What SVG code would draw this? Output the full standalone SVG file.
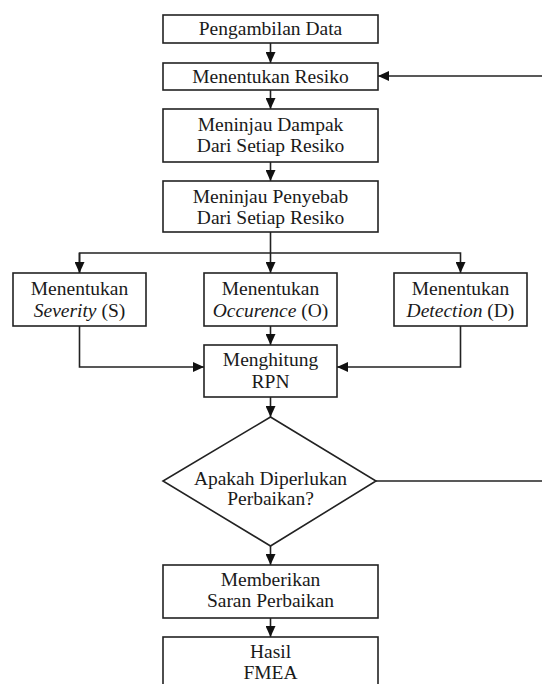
<svg xmlns="http://www.w3.org/2000/svg" width="542" height="684" viewBox="0 0 542 684">
<style>
.b{fill:#fff;stroke:#222;stroke-width:1.6}
.t{font-family:"Liberation Serif","Times New Roman",serif;font-size:19.5px;fill:#1a1a1a;text-anchor:middle}
.c{fill:none;stroke:#222;stroke-width:1.6}
</style>
<defs>
<marker id="a" markerUnits="userSpaceOnUse" markerWidth="11" markerHeight="10" refX="11" refY="5" orient="auto">
<path d="M0,0 L11,5 L0,10 z" fill="#111"/>
</marker>
</defs>
<rect width="542" height="684" fill="#fff"/>
<g id="connectors">
<path class="c" d="M270.5,43 V63" marker-end="url(#a)"/>
<path class="c" d="M270.5,90 V109" marker-end="url(#a)"/>
<path class="c" d="M270.5,162 V181" marker-end="url(#a)"/>
<path class="c" d="M270.5,232 V273" marker-end="url(#a)"/>
<path class="c" d="M79.5,273 V253 H460.5 V273" marker-end="url(#a)"/>
<path class="c" d="M79.5,253 V273" marker-end="url(#a)"/>
<path class="c" d="M270.5,326 V345" marker-end="url(#a)"/>
<path class="c" d="M79.5,326 V367 H204" marker-end="url(#a)"/>
<path class="c" d="M460.5,326 V367 H337" marker-end="url(#a)"/>
<path class="c" d="M270.5,397 V417" marker-end="url(#a)"/>
<path class="c" d="M270.5,546 V565" marker-end="url(#a)"/>
<path class="c" d="M270.5,618 V637" marker-end="url(#a)"/>
<path class="c" d="M376,481 H545"/>
<path class="c" d="M545,76 H378" marker-end="url(#a)"/>
</g>
<g id="n1"><rect class="b" x="163" y="15" width="215" height="28"/><text class="t" x="270.5" y="35">Pengambilan Data</text></g>
<g id="n2"><rect class="b" x="163" y="63" width="215" height="27"/><text class="t" x="270.5" y="83">Menentukan Resiko</text></g>
<g id="n3"><rect class="b" x="163" y="109" width="215" height="53"/><text class="t" x="270.5" y="131">Meninjau Dampak</text><text class="t" x="270.5" y="152">Dari Setiap Resiko</text></g>
<g id="n4"><rect class="b" x="163" y="181" width="215" height="51"/><text class="t" x="270.5" y="203">Meninjau Penyebab</text><text class="t" x="270.5" y="224">Dari Setiap Resiko</text></g>
<g id="n5"><rect class="b" x="13" y="273" width="133" height="53"/><text class="t" x="79.5" y="295">Menentukan</text><text class="t" x="79.5" y="317"><tspan font-style="italic">Severity</tspan> (S)</text></g>
<g id="n6"><rect class="b" x="204" y="273" width="133" height="53"/><text class="t" x="270.5" y="295">Menentukan</text><text class="t" x="270.5" y="317"><tspan font-style="italic">Occurence</tspan> (O)</text></g>
<g id="n7"><rect class="b" x="394" y="273" width="133" height="53"/><text class="t" x="460.5" y="295">Menentukan</text><text class="t" x="460.5" y="317"><tspan font-style="italic">Detection</tspan> (D)</text></g>
<g id="n8"><rect class="b" x="204" y="345" width="133" height="52"/><text class="t" x="270.5" y="366">Menghitung</text><text class="t" x="270.5" y="388">RPN</text></g>
<g id="n9"><polygon class="b" points="270.5,417 376,481 270.5,546 163,481"/><text class="t" x="270.5" y="485">Apakah Diperlukan</text><text class="t" x="270.5" y="505">Perbaikan?</text></g>
<g id="n10"><rect class="b" x="163" y="565" width="215" height="53"/><text class="t" x="270.5" y="586">Memberikan</text><text class="t" x="270.5" y="607">Saran Perbaikan</text></g>
<g id="n11"><rect class="b" x="163" y="637" width="215" height="60"/><text class="t" x="270.5" y="658">Hasil</text><text class="t" x="270.5" y="679">FMEA</text></g>
</svg>
